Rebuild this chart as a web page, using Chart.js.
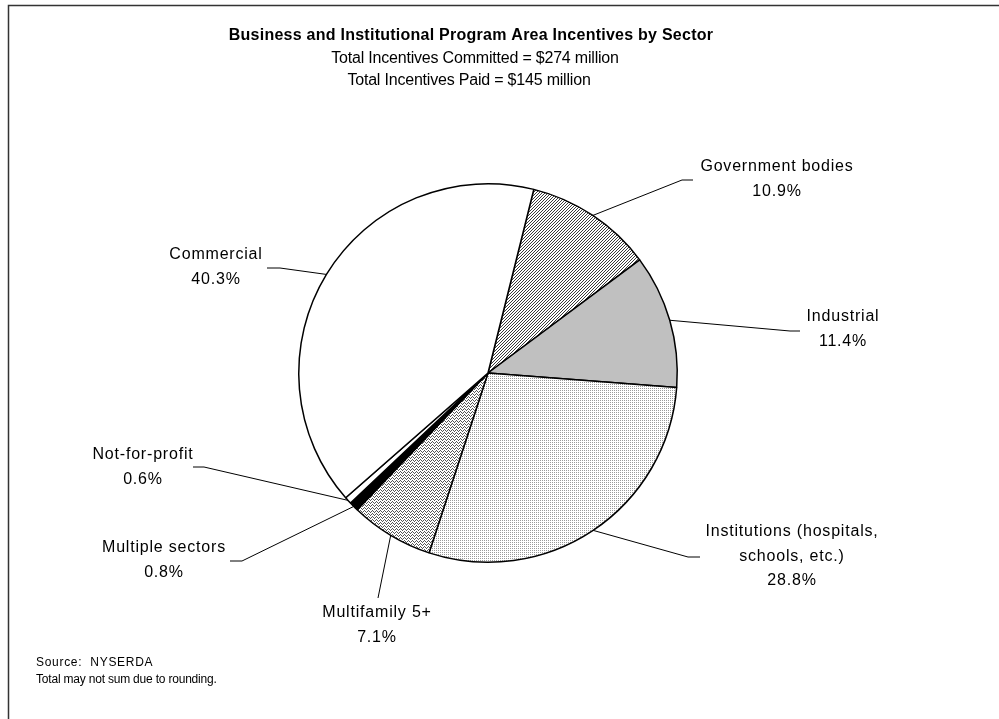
<!DOCTYPE html>
<html>
<head>
<meta charset="utf-8">
<title>Business and Institutional Program Area Incentives by Sector</title>
<script src="https://cdn.jsdelivr.net/npm/chart.js@4.4.1/dist/chart.umd.min.js"></script>
<style>
  html, body { margin: 0; padding: 0; background: #fff; }
  #wrap { width: 999px; height: 719px; }
</style>
</head>
<body>
<div id="wrap"><canvas id="sectorPie" width="999" height="719"></canvas></div>
<script>
// sectors in drawing order (clockwise, starting just right of 12 o'clock)
const sectors = ['Government bodies', 'Industrial', 'Institutions (hospitals, schools, etc.)',
  'Multifamily 5+', 'Multiple sectors', 'Not-for-profit', 'Commercial'];
const shares = [10.9, 11.4, 28.8, 7.1, 0.8, 0.6, 40.3];
const labelLines = [
  ['Government bodies'],
  ['Industrial'],
  ['Institutions (hospitals,', 'schools, etc.)'],
  ['Multifamily 5+'],
  ['Multiple sectors'],
  ['Not-for-profit'],
  ['Commercial'],
];
const titleLines = ['Business and Institutional Program Area Incentives by Sector',
  'Total Incentives Committed = $274 million',
  'Total Incentives Paid = $145 million'];
const noteLines = ['Source:  NYSERDA', 'Total may not sum due to rounding.'];

// where each label sits (centre of first line) and where its leader bends
const labelAt = [[777, 167], [843, 317], [792, 532], [377, 613], [164, 548], [143, 455], [216, 255]];
const elbows = [[682, 180], [790, 331], [688, 557], [378, 598], [242, 561], [204, 467], [280, 268]];
const tails = [[693, 180], [800, 331], [700, 557], null, [230, 561], [193, 467], [267, 268]];

// small fill patterns like the old office-chart hatches
function makePattern(w, h, draw) {
  const c = document.createElement('canvas');
  c.width = w; c.height = h;
  const g = c.getContext('2d');
  g.fillStyle = '#fff';
  g.fillRect(0, 0, w, h);
  draw(g);
  return g.createPattern(c, 'repeat');
}
const hatch = makePattern(3, 3, g => {
  g.fillStyle = '#3a3a3a';
  g.fillRect(2, 0, 1, 1); g.fillRect(1, 1, 1, 1); g.fillRect(0, 2, 1, 1);
});
const dots = makePattern(2, 2, g => {
  g.fillStyle = '#9a9a9a';
  g.fillRect(0, 0, 1, 1);
});
const waves = makePattern(8, 3, g => {
  g.fillStyle = '#555';
  [0, 1, 2, 1, 0, 1, 2, 1].forEach((y, x) => g.fillRect(x, y, 1, 1));
});
const fills = [hatch, '#c0c0c0', dots, waves, '#000', '#fff', '#fff'];

const LABEL_FONT = '16px "Liberation Sans", Arial, sans-serif';

const decorations = {
  id: 'decorations',
  afterDraw(chart) {
    const ctx = chart.ctx;
    ctx.save();
    // outer frame
    ctx.strokeStyle = '#333';
    ctx.lineWidth = 1.5;
    ctx.strokeRect(8.5, 5.5, 1200, 1200);

    // titles
    ctx.fillStyle = '#000';
    ctx.textAlign = 'center';
    ctx.textBaseline = 'middle';
    ctx.font = 'bold 16px "Liberation Sans", Arial, sans-serif';
    ctx.letterSpacing = '0.25px';
    ctx.fillText(titleLines[0], 471, 36);
    ctx.font = '16px "Liberation Sans", Arial, sans-serif';
    ctx.letterSpacing = '-0.2px';
    ctx.fillText(titleLines[1], 475, 59);
    ctx.fillText(titleLines[2], 469, 81);

    // leaders and slice labels
    const meta = chart.getDatasetMeta(0);
    ctx.strokeStyle = '#000';
    ctx.lineWidth = 1;
    meta.data.forEach((arc, i) => {
      const p = arc.getProps(['x', 'y', 'startAngle', 'endAngle', 'outerRadius'], true);
      const mid = (p.startAngle + p.endAngle) / 2;
      ctx.beginPath();
      ctx.moveTo(p.x + p.outerRadius * Math.cos(mid), p.y + p.outerRadius * Math.sin(mid));
      ctx.lineTo(elbows[i][0], elbows[i][1]);
      if (tails[i]) ctx.lineTo(tails[i][0], tails[i][1]);
      ctx.stroke();

      ctx.font = LABEL_FONT;
      ctx.letterSpacing = '0.8px';
      const lines = labelLines[i].concat([shares[i].toFixed(1) + '%']);
      lines.forEach((t, k) => ctx.fillText(t, labelAt[i][0], labelAt[i][1] + k * 24.3));
    });

    // footnote
    ctx.textAlign = 'left';
    ctx.font = '12px "Liberation Sans", Arial, sans-serif';
    ctx.letterSpacing = '0.7px';
    ctx.fillText(noteLines[0], 36, 663);
    ctx.letterSpacing = '-0.2px';
    ctx.fillText(noteLines[1], 36, 680);
    ctx.restore();
  }
};

new Chart(document.getElementById('sectorPie'), {
  type: 'pie',
  data: {
    labels: sectors,
    datasets: [{
      data: shares,
      backgroundColor: fills,
      borderColor: '#000',
      borderWidth: 1.5,
      hoverOffset: 0,
    }]
  },
  options: {
    responsive: false,
    animation: false,
    rotation: 14,
    layout: { padding: { left: 298, right: 321, top: 183, bottom: 156 } },
    plugins: {
      legend: { display: false },
      title: { display: false },
      tooltip: { enabled: false },
    },
    events: [],
  },
  plugins: [decorations],
});
</script>
</body>
</html>
